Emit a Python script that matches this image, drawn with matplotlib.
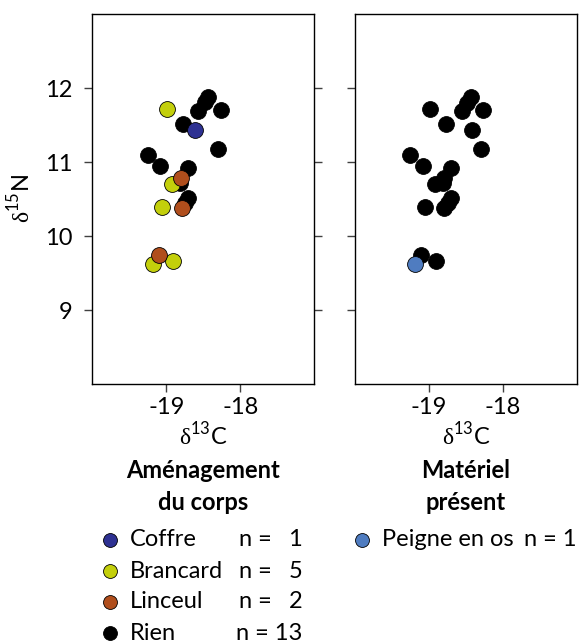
import matplotlib
matplotlib.use("Agg")
import matplotlib.pyplot as plt
from matplotlib.lines import Line2D

plt.rcParams['font.family'] = ['Lato', 'DejaVu Sans']
plt.rcParams['mathtext.fontset'] = 'custom'
plt.rcParams['mathtext.rm'] = 'Liberation Serif'
plt.rcParams['mathtext.sf'] = 'Lato'

# panel 1 : aménagement du corps
rien_x = [-18.432, -18.477, -18.568, -18.265, -18.774, -18.301, -19.252, -19.085, -18.711, -18.815, -18.703, -18.747]
rien_y = [11.878, 11.819, 11.693, 11.711, 11.518, 11.180, 11.103, 10.946, 10.927, 10.720, 10.514, 10.454]
brancard_x = [-18.986, -18.923, -19.054, -19.184, -18.905]
brancard_y = [11.72, 10.698, 10.40, 9.621, 9.666]
linceul_x = [-18.797, -18.792, -19.103]
linceul_y = [10.792, 10.378, 9.747]
coffre_x = [-18.612]
coffre_y = [11.436]

# panel 2 : matériel présent
aucun_x = [-18.437, -18.491, -18.559, -18.266, -18.986, -18.770, -18.414, -18.297, -19.252, -19.086,
           -18.707, -18.797, -18.815, -18.919, -19.050, -18.703, -18.748, -18.793, -19.108, -18.905]
aucun_y = [11.878, 11.806, 11.693, 11.711, 11.720, 11.518, 11.436, 11.175, 11.103, 10.946,
           10.927, 10.792, 10.716, 10.702, 10.400, 10.513, 10.454, 10.378, 9.747, 9.666]
peigne_x = [-19.185]
peigne_y = [9.617]

yticks = [9, 10, 11, 12]
xticks = [-19, -18]

leg1_labels = ['Coffre', 'Brancard', 'Linceul', 'Rien']
leg1_counts = ['1', '5', '2', '13']
leg2_labels = ['Peigne en os']
leg2_counts = ['1']

c_coffre = '#2e3192'
c_brancard = '#c3cf0b'
c_linceul = '#b04e1c'
c_rien = '#000000'
c_peigne = '#4f7cc0'

FS = 17

fig = plt.figure(figsize=(5.79, 6.43), dpi=100)
ax1 = fig.add_axes([0.1594, 0.4028, 0.3834, 0.575])
ax2 = fig.add_axes([0.6131, 0.4028, 0.3834, 0.575])

S = 130
ax1.scatter(rien_x, rien_y, s=S, color=c_rien, edgecolor='black', linewidth=0.6, zorder=3)
ax1.scatter(brancard_x, brancard_y, s=S, color=c_brancard, edgecolor='black', linewidth=0.6, zorder=4)
ax1.scatter(linceul_x, linceul_y, s=S, color=c_linceul, edgecolor='black', linewidth=0.6, zorder=5)
ax1.scatter(coffre_x, coffre_y, s=S, color=c_coffre, edgecolor='black', linewidth=0.6, zorder=6)

ax2.scatter(aucun_x, aucun_y, s=S, color=c_rien, edgecolor='black', linewidth=0.6, zorder=3)
ax2.scatter(peigne_x, peigne_y, s=S, color=c_peigne, edgecolor='black', linewidth=0.6, zorder=4)

for ax in (ax1, ax2):
    ax.set_xlim(-20, -17)
    ax.set_ylim(8, 13)
    ax.set_xticks(xticks)
    ax.set_xticklabels([str(v) for v in xticks])
    ax.set_yticks(yticks)
    for sp in ax.spines.values():
        sp.set_linewidth(1.0)
    ax.tick_params(axis='x', direction='out', length=5.5, width=1.0, color='#404040',
                   labelsize=FS, pad=4)
    ax.set_xlabel(r'$\mathrm{\delta}^{\mathsf{13}}$C', fontsize=FS, labelpad=2)

ax1.tick_params(axis='y', direction='out', length=5.5, width=1.0, color='#404040',
                labelsize=FS, pad=9, left=True, right=True)
ax1.set_yticklabels([str(v) for v in yticks])
ax2.tick_params(axis='y', direction='out', length=5.5, width=1.0, color='#404040',
                labelleft=False, left=True, right=False)

fig.text(20 / 579, 1 - 198 / 643, r'$\mathrm{\delta}^{\mathsf{15}}$N', rotation=90,
         fontsize=FS, ha='center', va='center')

# titres
fig.text(203 / 579, 1 - 470 / 643, 'Aménagement', fontsize=FS, fontweight='bold', ha='center', va='center')
fig.text(203 / 579, 1 - 502 / 643, 'du corps', fontsize=FS, fontweight='bold', ha='center', va='center')
fig.text(466 / 579, 1 - 470 / 643, 'Matériel', fontsize=FS, fontweight='bold', ha='center', va='center')
fig.text(466 / 579, 1 - 502 / 643, 'présent', fontsize=FS, fontweight='bold', ha='center', va='center')

# légendes
leg1_colors = [c_coffre, c_brancard, c_linceul, c_rien]
for i, (lab, n, col) in enumerate(zip(leg1_labels, leg1_counts, leg1_colors)):
    yy = 1 - (540 + 31 * i) / 643
    fig.add_artist(Line2D([110 / 579], [yy], marker='o', markersize=10, markerfacecolor=col,
                          markeredgecolor='black', markeredgewidth=0.6, linestyle='none'))
    fig.text(130 / 579, yy, lab, fontsize=FS, ha='left', va='center')
    if len(n) > 1:
        fig.text(302 / 579, yy, 'n = ' + n, fontsize=FS, ha='right', va='center')
    else:
        fig.text(239 / 579, yy, 'n =', fontsize=FS, ha='left', va='center')
        fig.text(302 / 579, yy, n, fontsize=FS, ha='right', va='center')

yy = 1 - 540 / 643
fig.add_artist(Line2D([362 / 579], [yy], marker='o', markersize=10, markerfacecolor=c_peigne,
                      markeredgecolor='black', markeredgewidth=0.6, linestyle='none'))
fig.text(382 / 579, yy, leg2_labels[0], fontsize=FS, ha='left', va='center')
fig.text(577 / 579, yy, 'n = ' + leg2_counts[0], fontsize=FS, ha='right', va='center')

fig.savefig('out.png', dpi=100)
